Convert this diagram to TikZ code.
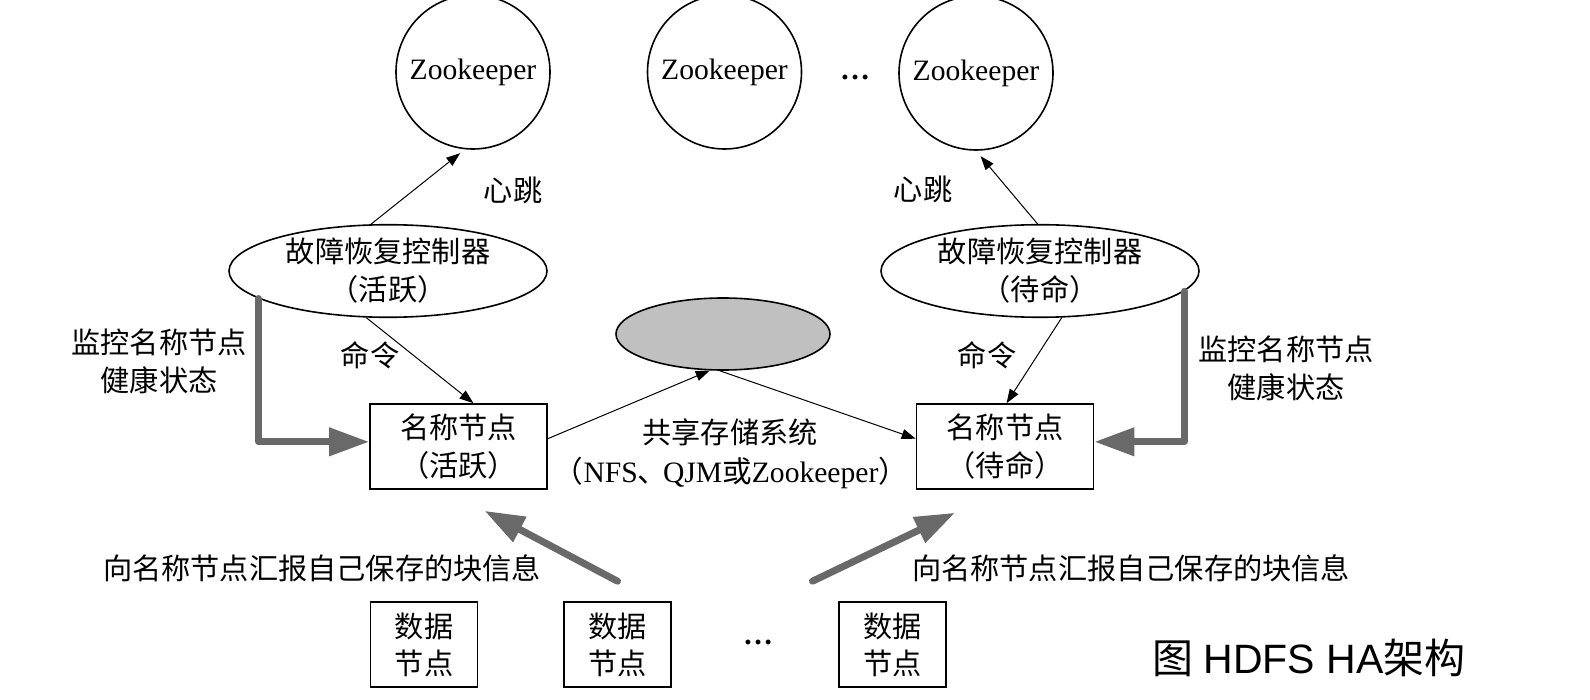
\documentclass[tikz,border=0pt]{standalone}
\usepackage{fontspec}
\setmainfont{Liberation Serif}
\newfontfamily\cjk{Noto Sans CJK SC}
\newfontfamily\capsans{Liberation Sans}
\usetikzlibrary{shapes.geometric,arrows.meta,calc}
\newcommand\zlp{\makebox[0.45em][r]{\cjk （}}
\newcommand\zrp{\makebox[0.45em][l]{\cjk ）}}
\newcommand\zdun{\makebox[0.85em][l]{\cjk 、}}
\definecolor{arrowgray}{RGB}{105,105,105}
\definecolor{storegray}{RGB}{192,192,192}
\begin{document}
\begin{tikzpicture}[x=0.5pt,y=-0.5pt,
  zhfont/.style={font=\fontsize{14.6pt}{19pt}\selectfont\cjk},
  txt/.style={zhfont, align=center, inner sep=0pt},
  zk/.style={circle, draw, line width=0.8pt, minimum size=77pt, inner sep=0pt, font=\fontsize{14.8pt}{18pt}\selectfont},
  fc/.style={ellipse, draw, line width=0.8pt, minimum width=159pt, minimum height=42pt, inner sep=0pt, align=center, zhfont},
  nnbox/.style={rectangle, draw, line width=0.8pt, minimum width=88.5pt, minimum height=42.5pt, inner sep=0pt, align=center, zhfont},
  dnbox/.style={rectangle, draw, line width=0.8pt, minimum width=53.5pt, minimum height=42.5pt, inner sep=0pt, align=center, font=\fontsize{14.6pt}{18.5pt}\selectfont\cjk},
  store/.style={ellipse, draw, fill=storegray, line width=0.8pt, minimum width=107pt, minimum height=36pt, inner sep=0pt},
  thinarrow/.style={draw, line width=0.5pt, -{Triangle[length=7pt,width=5pt]}},
  fatarrow/.style={draw=arrowgray, line width=3.5pt, line join=round, line cap=round, -{Triangle[length=20pt,width=13.5pt]}},
  dotsfont/.style={font=\fontsize{15pt}{18pt}\selectfont\bfseries, inner sep=0pt}
]
\useasboundingbox (0,0) rectangle (1590,700);

% Zookeeper ensemble
\node[zk] (zk1) at (473,72) {Zookeeper};
\node[zk] (zk2) at (724.5,72) {Zookeeper};
\node[zk] (zk3) at (976,73) {Zookeeper};
\node[dotsfont] (dotsa) at (855,77) {…};

% failover controllers
\node[fc] (fcl) at (388,271) {故障恢复控制器\\\zlp 活跃\zrp};
\node[fc] (fcs) at (1040,271) {故障恢复控制器\\\zlp 待命\zrp};

% shared storage
\node[store] (ss) at (723,334) {};

% name nodes
\node[nnbox] (nna) at (458.5,446.5) {名称节点\\\zlp 活跃\zrp};
\node[nnbox] (nns) at (1005,446.5) {名称节点\\\zlp 待命\zrp};

% data nodes
\node[dnbox] (dn1) at (424,644.5) {数据\\节点};
\node[dnbox] (dn2) at (617.5,644.5) {数据\\节点};
\node[dnbox] (dn3) at (892.5,644.5) {数据\\节点};
\node[dotsfont] (dotsb) at (758,642) {…};

% labels
\node[txt] (hbl) at (513,190) {心跳};
\node[txt] (hbr) at (923,189) {心跳};
\node[txt] (cmdl) at (370,355) {命令};
\node[txt] (cmdr) at (987,355) {命令};
\node[txt] (monl) at (159,361.5) {监控名称节点\\健康状态};
\node[txt] (monr) at (1286,368) {监控名称节点\\健康状态};
\node[txt, anchor=base] (ssa) at (730,443) {共享存储系统};
\node[anchor=base, inner sep=0pt, font=\fontsize{14.8pt}{18pt}\selectfont] (ssb) at (731,482)
  {\zlp NFS\zdun QJM{\cjk 或}Zookeeper\zrp};
\node[txt] (repl) at (322,568) {向名称节点汇报自己保存的块信息};
\node[txt] (repr) at (1131,568) {向名称节点汇报自己保存的块信息};
\node[anchor=west, inner sep=0pt, font=\fontsize{20.5pt}{24pt}\selectfont] (cap) at (1152,658)
  {{\cjk 图} {\capsans HDFS HA}{\cjk 架构}};

% connectors
\draw[thinarrow, shorten >=3pt] (fcl.110) -- (zk1.264);
\draw[thinarrow, shorten >=3.5pt] (fcs.93) -- (zk3.270);
\draw[thinarrow] (fcl.245) -- (nna.71);
\draw[thinarrow] (fcs.295) -- (nns.88);
\draw[thinarrow] (nna.5) -- (ss.250);
\draw[thinarrow] (ss.265) -- (nns.175);
\draw[fatarrow] (fcl.192) |- (nna.177);
\draw[fatarrow] (fcs.352) |- (nns.3);
\draw[fatarrow] ([yshift=10pt]dn2.north) -- ([xshift=13pt,yshift=-10.5pt]nna.south);
\draw[fatarrow] ([xshift=-40pt,yshift=10pt]dn3.north) -- ([xshift=-25pt,yshift=-11.5pt]nns.south);
\end{tikzpicture}
\end{document}
